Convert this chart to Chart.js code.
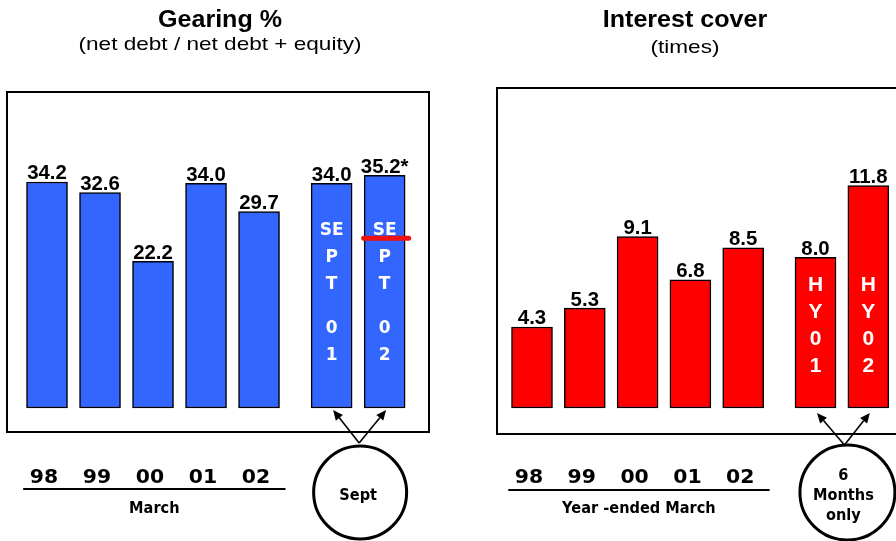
<!DOCTYPE html>
<html>
<head>
<meta charset="utf-8">
<script src="https://cdn.jsdelivr.net/npm/chart.js@4/dist/chart.umd.min.js"></script>
<style>
  html, body { margin: 0; padding: 0; background: #fff; width: 896px; height: 541px; overflow: hidden; }
  canvas { position: absolute; top: 0; }
  #gearing { left: 0; }
  #cover { left: 450px; }
</style>
</head>
<body>
<canvas id="gearing" width="448" height="541"></canvas>
<canvas id="cover" width="480" height="541"></canvas>
<script>
// Financial year-ends (March)
const yearLabels = ['98', '99', '00', '01', '02'];

// Gearing %: net debt / (net debt + equity)
const gearingYears = [34.2, 32.6, 22.2, 34.0, 29.7];
const gearingSept = [34.0, 35.2];
const gearingSeptNotes = ['', '*'];
const gearingSeptText = [['SE', 'P', 'T', '', '0', '1'], ['SE', 'P', 'T', '', '0', '2']];
const gearingSeptMarker = 25.7;   // red bar on Sept 02

// Interest cover (times)
const coverYears = [4.3, 5.3, 9.1, 6.8, 8.5];
const coverHalf = [8.0, 11.8];
const coverHalfNotes = ['', ''];
const coverHalfText = [['H', 'Y', '0', '1'], ['H', 'Y', '0', '2']];

const GAP = 0.37;   // extra space between the yearly bars and the part-year bars

function stretchText(ctx, s, x, y, font, sx, align) {
  ctx.save();
  ctx.font = font;
  ctx.textAlign = align || 'center';
  ctx.textBaseline = 'alphabetic';
  ctx.translate(x, y);
  ctx.scale(sx, 1);
  ctx.fillText(s, 0, 0);
  ctx.restore();
}

function arrow(ctx, x0, y0, x1, y1) {
  const a = Math.atan2(y1 - y0, x1 - x0);
  const L = 10, W = 4.5;
  const bx = x1 - L * Math.cos(a), by = y1 - L * Math.sin(a);
  ctx.beginPath();
  ctx.moveTo(x0, y0);
  ctx.lineTo(bx, by);
  ctx.stroke();
  ctx.beginPath();
  ctx.moveTo(x1, y1);
  ctx.lineTo(bx + W * Math.sin(a), by - W * Math.cos(a));
  ctx.lineTo(bx - W * Math.sin(a), by + W * Math.cos(a));
  ctx.closePath();
  ctx.fill();
}

function decorPlugin(cfg) {
  return {
    id: 'decor',
    afterDatasetsDraw(chart) {
      const ctx = chart.ctx;
      const xs = chart.scales.x, ys = chart.scales.y;
      const area = chart.chartArea;
      const nYears = cfg.years.length;
      const extraPos = cfg.extra.map((v, j) => nYears + GAP + j);
      const zero = ys.getPixelForValue(0);

      // frame round the plot
      ctx.save();
      ctx.strokeStyle = '#000';
      ctx.lineWidth = 2;
      ctx.strokeRect(area.left, area.top, area.right - area.left, area.bottom - area.top);
      ctx.restore();

      // titles
      ctx.fillStyle = '#000';
      stretchText(ctx, cfg.title, cfg.titleX, 27, 'bold 23px "Liberation Sans", Arial, sans-serif', 1.09);
      stretchText(ctx, cfg.subtitle, cfg.titleX, cfg.subtitleY, '18.5px "Liberation Sans", Arial, sans-serif', 1.22);

      // value labels above every bar
      const valueFont = 'bold 20px "Liberation Sans", Arial, sans-serif';
      cfg.years.forEach((v, i) => {
        stretchText(ctx, v.toFixed(1), xs.getPixelForValue(i), ys.getPixelForValue(v) - 2.5, valueFont, 1.02);
      });
      cfg.extra.forEach((v, j) => {
        stretchText(ctx, v.toFixed(1) + cfg.extraNotes[j], xs.getPixelForValue(extraPos[j]), ys.getPixelForValue(v) - 2.5, valueFont, 1.02);
      });

      // stacked white text inside the part-year bars
      ctx.fillStyle = '#fff';
      cfg.extraText.forEach((lines, j) => {
        const cx = xs.getPixelForValue(extraPos[j]);
        let y = zero - cfg.innerStart;
        lines.forEach(s => {
          if (s === '') { y += cfg.innerGap; return; }
          stretchText(ctx, s, cx, y, cfg.innerFont, cfg.innerSx);
          y += cfg.innerStep;
        });
      });

      // marker line across a bar
      if (cfg.marker != null) {
        const cx = xs.getPixelForValue(extraPos[cfg.markerBar]);
        const my = ys.getPixelForValue(cfg.marker);
        ctx.save();
        ctx.strokeStyle = '#ee1111';
        ctx.lineWidth = 5;
        ctx.lineCap = 'round';
        ctx.beginPath();
        ctx.moveTo(cx - 21, my);
        ctx.lineTo(cx + 24, my);
        ctx.stroke();
        ctx.restore();
      }

      // year labels, rule and caption below the frame
      ctx.fillStyle = '#000';
      yearLabels.forEach((s, i) => {
        stretchText(ctx, s, xs.getPixelForValue(i) - 3, 483, 'bold 20px "DejaVu Sans", Verdana, sans-serif', 1.02);
      });
      const r0 = xs.getPixelForValue(-0.45), r1 = xs.getPixelForValue(4.5);
      ctx.save();
      ctx.strokeStyle = '#000';
      ctx.lineWidth = 2;
      ctx.beginPath();
      ctx.moveTo(r0, cfg.ruleY);
      ctx.lineTo(r1, cfg.ruleY);
      ctx.stroke();
      ctx.restore();
      stretchText(ctx, cfg.caption, (r0 + r1) / 2, 513, 'bold 15px "DejaVu Sans", Verdana, sans-serif', 0.97);

      // callout circle with arrows to the part-year bars
      const mid = (xs.getPixelForValue(extraPos[0]) + xs.getPixelForValue(extraPos[1])) / 2;
      ctx.save();
      ctx.strokeStyle = '#000';
      ctx.fillStyle = '#000';
      ctx.lineWidth = 1.6;
      extraPos.forEach(p => {
        arrow(ctx, mid + cfg.arrowShift, cfg.arrowFromY, xs.getPixelForValue(p) + 1.5, zero + cfg.arrowGap);
      });
      ctx.lineWidth = 3;
      ctx.beginPath();
      ctx.arc(mid + cfg.circleShift, 492.5, cfg.circleR, 0, Math.PI * 2);
      ctx.stroke();
      ctx.restore();
      ctx.fillStyle = '#000';
      cfg.callout.forEach((s, k) => {
        stretchText(ctx, s, mid + cfg.textShift, cfg.calloutY + k * 20, 'bold 15px "DejaVu Sans", Verdana, sans-serif', 0.97);
      });
    }
  };
}

function makeChart(id, cfg) {
  const points = cfg.years.map((v, i) => ({ x: i, y: v }))
    .concat(cfg.extra.map((v, j) => ({ x: cfg.years.length + GAP + j, y: v })));
  return new Chart(document.getElementById(id), {
    type: 'bar',
    data: {
      datasets: [{
        data: points,
        backgroundColor: cfg.color,
        borderColor: '#000',
        borderWidth: 1.5,
        borderSkipped: false,
        barThickness: 41
      }]
    },
    options: {
      responsive: false,
      animation: false,
      devicePixelRatio: 1,
      layout: { padding: cfg.padding },
      scales: {
        x: { type: 'linear', display: false, offset: false, min: cfg.xMin, max: cfg.xMax },
        y: { display: false, min: cfg.yMin, max: cfg.yMax }
      },
      plugins: { legend: { display: false }, tooltip: { enabled: false }, title: { display: false } }
    },
    plugins: [decorPlugin(cfg)]
  });
}

makeChart('gearing', {
  years: gearingYears, extra: gearingSept, extraNotes: gearingSeptNotes, extraText: gearingSeptText,
  color: '#3366ff',
  title: 'Gearing %', subtitle: '(net debt / net debt + equity)', titleX: 220, subtitleY: 50,
  padding: { left: 7, right: 19, top: 92, bottom: 109 },
  xMin: -0.755, xMax: 7.207, yMin: -3.63, yMax: 47.81,
  innerFont: 'bold 17px "DejaVu Sans", Verdana, sans-serif', innerSx: 1,
  innerStart: 173, innerStep: 27, innerGap: 17,
  marker: gearingSeptMarker, markerBar: 1,
  ruleY: 489, caption: 'March',
  arrowShift: 1, arrowFromY: 443, arrowGap: 2,
  circleShift: 2, circleR: 46.5,
  textShift: 0, callout: ['Sept'], calloutY: 500
});

makeChart('cover', {
  years: coverYears, extra: coverHalf, extraNotes: coverHalfNotes, extraText: coverHalfText,
  color: '#ff0000',
  title: 'Interest cover', subtitle: '(times)', titleX: 235, subtitleY: 53,
  padding: { left: 47, right: 14, top: 88, bottom: 107 },
  xMin: -0.663, xMax: 7.273, yMin: -1.38, yMax: 16.98,
  innerFont: 'bold 20px "Liberation Sans", Arial, sans-serif', innerSx: 1.05,
  innerStart: 117, innerStep: 27, innerGap: 0,
  marker: null,
  ruleY: 490, caption: 'Year -ended March',
  arrowShift: 2.5, arrowFromY: 445, arrowGap: 5,
  circleShift: 5.5, circleR: 47.5,
  textShift: 1.5, callout: ['6', 'Months', 'only'], calloutY: 480
});
</script>
</body>
</html>
